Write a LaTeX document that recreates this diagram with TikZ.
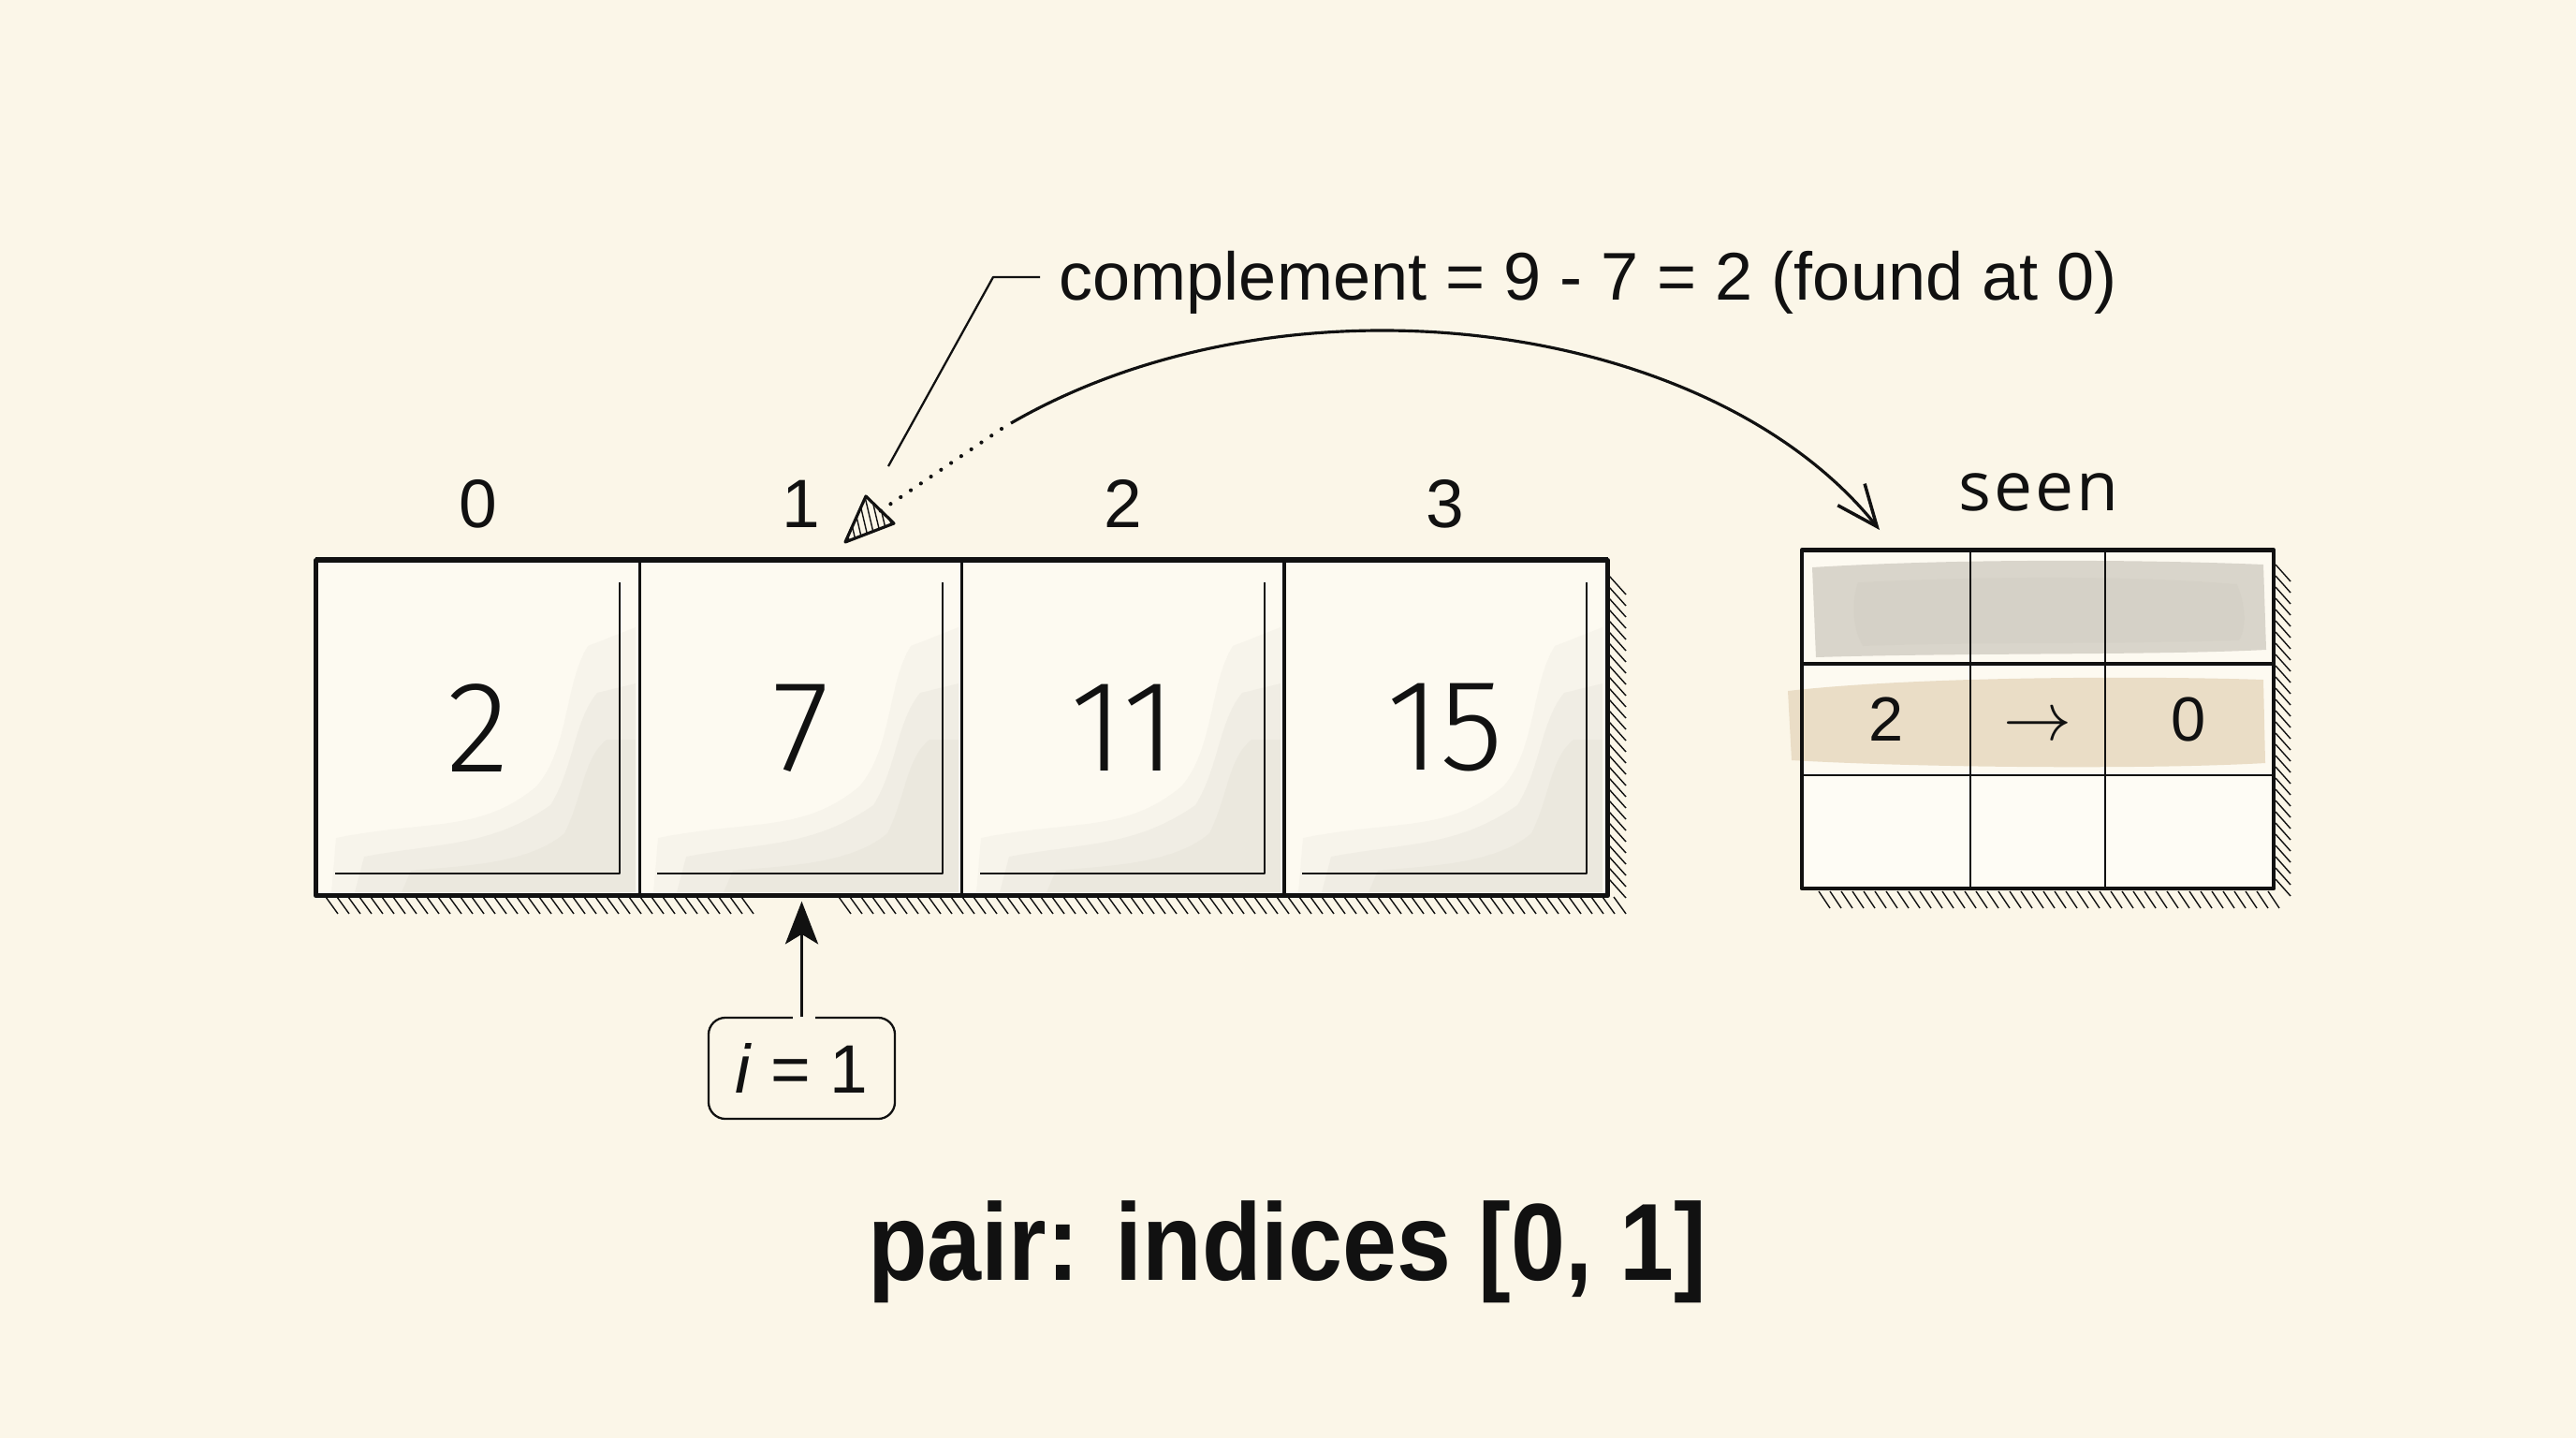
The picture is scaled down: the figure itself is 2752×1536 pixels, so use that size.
\documentclass[tikz,border=0pt]{standalone}
\usepackage{graphicx}
\usepackage{fontspec}
\setmainfont{Liberation Sans}
\newfontfamily\seenfont[LetterSpace=4]{Open Sans}
\newfontfamily\handfont{Fira Sans Light}
\usetikzlibrary{arrows.meta,calc}
\definecolor{paper}{RGB}{251,246,232}
\definecolor{cellbg}{RGB}{253,250,241}
\definecolor{ink}{RGB}{17,17,17}
\definecolor{wash}{RGB}{160,155,140}
\definecolor{graywash}{RGB}{217,213,203}
\definecolor{graydeep}{RGB}{205,201,190}
\definecolor{tanwash}{RGB}{234,221,198}
\definecolor{rowbg}{RGB}{254,252,245}
\begin{document}
\begin{tikzpicture}[x=0.01cm, y=0.01cm, line join=round,
  hatch/.style={draw=ink, line width=0.4pt},
  cellbox/.style={draw=ink, line width=0.9pt, minimum width=3.44cm, minimum height=3.55cm,
    inner sep=0pt, font=\handfont\fontsize{39.5}{40}\selectfont, text=ink},
  innerline/.style={draw=ink, line width=0.55pt},
  idx/.style={anchor=base, inner sep=0pt, font=\fontsize{20.8}{22}\selectfont, text=ink},
  tcell/.style={draw=ink, line width=0.7pt, inner sep=0pt, minimum height=1.195cm,
    font=\fontsize{19}{20}\selectfont, text=ink},
  wide/.style={minimum width=1.79cm},
  narrow/.style={minimum width=1.44cm},
  ibox/.style={draw=ink, line width=0.65pt, rounded corners=0.18cm, minimum width=1.99cm,
    minimum height=1.08cm, inner sep=0pt, font=\fontsize{20.8}{22}\selectfont, text=ink},
  iarrow/.style={draw=ink, line width=0.8pt, -{Stealth[length=13pt,width=10pt,inset=3pt]}},
  arcline/.style={draw=ink, line width=0.9pt, -{Straight Barb[length=12.5pt,width=10.5pt,line width=1pt]}},
  dotline/.style={draw=ink, line width=1.2pt, line cap=round, dash pattern=on 0pt off 3.7pt},
  leader/.style={draw=ink, line width=0.65pt}
]
% paper
\fill[paper] (0,0) rectangle (2752,-1536);
\useasboundingbox (0,0) rectangle (2752,-1536);

% ---------- array cells: backgrounds and washes ----------
\foreach \xl/\xr in {339/683, 683/1028, 1028/1372, 1372/1716} {
  \fill[cellbg] (\xl,-600) rectangle (\xr,-955);
  \fill[wash, opacity=.06] (\xl+15,-953) -- (\xl+20,-895)
     .. controls (\xl+120,-875) and (\xr-170,-890) .. (\xr-110,-840)
     .. controls (\xr-75,-800) and (\xr-80,-730) .. (\xr-55,-690)
     -- (\xr-4,-670) -- (\xr-4,-953) -- cycle;
  \fill[wash, opacity=.07] (\xl+40,-953) -- (\xl+50,-915)
     .. controls (\xl+130,-900) and (\xr-160,-905) .. (\xr-95,-860)
     .. controls (\xr-70,-820) and (\xr-70,-770) .. (\xr-45,-740)
     -- (\xr-4,-730) -- (\xr-4,-953) -- cycle;
  \fill[wash, opacity=.06] (\xl+90,-953) -- (\xl+100,-930)
     .. controls (\xr-200,-925) and (\xr-120,-925) .. (\xr-80,-890)
     .. controls (\xr-60,-850) and (\xr-60,-810) .. (\xr-35,-790)
     -- (\xr-4,-790) -- (\xr-4,-953) -- cycle;
  \draw[innerline] (\xr-21,-622) -- (\xr-21,-933) -- (\xl+19,-933);
}

% ---------- array cells ----------
\node[cellbox] (c0) at (511,-777.5) {2};
\node[cellbox] (c1) at (855.5,-777.5) {7};
\node[cellbox] (c2) at (1200,-777.5) {11};
\node[cellbox] (c3) at (1544,-777.5) {15};
\draw[ink, line width=1.3pt] (c0.north west) rectangle (c3.south east);
\draw[ink, line width=1.8pt] (c0.north west) -- (c3.north east);

% hatching of the array
\foreach \x in {348,360,...,800} \draw[hatch] (\x,-958) -- (\x+13,-976);
\foreach \x in {896,908,...,1728} \draw[hatch] (\x,-958) -- (\x+13,-976);
\foreach \y in {615,627,...,950} \draw[hatch] (1719,-\y) -- (1737,-\y-20);

% index labels
\node[idx] (l0) at (511,-563) {0};
\node[idx] (l1) at (855.5,-563) {1};
\node[idx] (l2) at (1200,-563) {2};
\node[idx] (l3) at (1544,-563) {3};

% ---------- seen table ----------
\fill[cellbg] (1926,-589) rectangle (2428,-948);
\fill[rowbg] (1926,-828) rectangle (2428,-948);
\fill[graywash] (1936,-606) .. controls (2100,-596) and (2300,-598) .. (2418,-603)
   -- (2421,-694) .. controls (2300,-700) and (2100,-697) .. (1940,-702) -- cycle;
\fill[graydeep, opacity=.25] (1985,-622) .. controls (2150,-614) and (2300,-616) .. (2390,-624)
   .. controls (2400,-650) and (2400,-670) .. (2392,-684)
   .. controls (2250,-688) and (2100,-686) .. (1990,-690)
   .. controls (1978,-670) and (1978,-640) .. cycle;
\fill[tanwash] (1910,-738) .. controls (2050,-722) and (2300,-722) .. (2418,-726)
   -- (2420,-815) .. controls (2300,-822) and (2050,-820) .. (1914,-812) -- cycle;

\node[tcell, wide]   (t11) at (2015.5,-648.5) {};
\node[tcell, narrow] (t12) at (2177,-648.5) {};
\node[tcell, wide]   (t13) at (2338.5,-648.5) {};
\node[tcell, wide]   (t21) at (2015.5,-768) {2};
\node[tcell, narrow] (t22) at (2177,-768) {\raisebox{-6.5pt}[0pt][0pt]{\fontsize{22.8}{24}\selectfont$\rightarrow$}};
\node[tcell, wide]   (t23) at (2338.5,-768) {0};
\node[tcell, wide]   (t31) at (2015.5,-888) {};
\node[tcell, narrow] (t32) at (2177,-888) {};
\node[tcell, wide]   (t33) at (2338.5,-888) {};
\draw[ink, line width=1.2pt] (t11.north west) rectangle (t33.south east);
\draw[ink, line width=1pt] (t11.south west) -- (t13.south east);

\foreach \x in {1943,1955,...,2431} \draw[hatch] (\x,-952) -- (\x+12,-970);
\foreach \y in {603,615,...,945} \draw[hatch] (2431,-\y) -- (2447,-\y-18);

\node[anchor=base, inner sep=0pt, font=\seenfont\fontsize{20.8}{22}\selectfont, text=ink]
  (seen) at (2178,-545) {seen};

% ---------- complement label and leader ----------
\node[anchor=base west, inner sep=0pt, font=\fontsize{20.5}{22}\selectfont, text=ink]
  (cmp) at (1131,-320) {complement = 9 - 7 = 2 (found at 0)};
\coordinate (ldEnd) at (949,-498);
\draw[leader] ($(cmp.base west)+(-20,24)$) -- ($(cmp.base west)+(-70,24)$) -- (ldEnd);

% ---------- arc from 7 to the seen table ----------
\coordinate (arcS) at (1080,-452);
\coordinate (seenIn) at (2008,-566);
\coordinate (triBase) at (940,-546);
\draw[arcline] (arcS) .. controls (1374,-282) and (1826,-339) .. (seenIn);
\draw[dotline] (1070,-458) -- (triBase);
% hatched arrowhead pointing at cell 1
\begin{scope}
  \clip (903,-579) -- (925,-530) -- (955,-559) -- cycle;
  \foreach \x in {880,887,...,960} \draw[ink, line width=0.4pt] (\x,-522) -- (\x+16,-590);
\end{scope}
\draw[ink, line width=0.9pt] (903,-579) -- (925,-530) -- (955,-559) -- cycle;

% ---------- i = 1 pointer ----------
\node[ibox] (ibox) at (856.5,-1141) {\textit{i} = 1};
\draw[paper, line width=2pt] ($(ibox.north)+(-10,0)$) -- ($(ibox.north)+(14,0)$);
\draw[iarrow] (ibox.north) -- ($(c1.south)+(1,-6)$);

% ---------- title ----------
\node[anchor=base, inner sep=0pt, font=\bfseries\fontsize{33.3}{36}\selectfont, text=ink]
  (title) at (1375,-1367) {\scalebox{0.89}[1]{pair: indices [0, 1]}};
\end{tikzpicture}
\end{document}
